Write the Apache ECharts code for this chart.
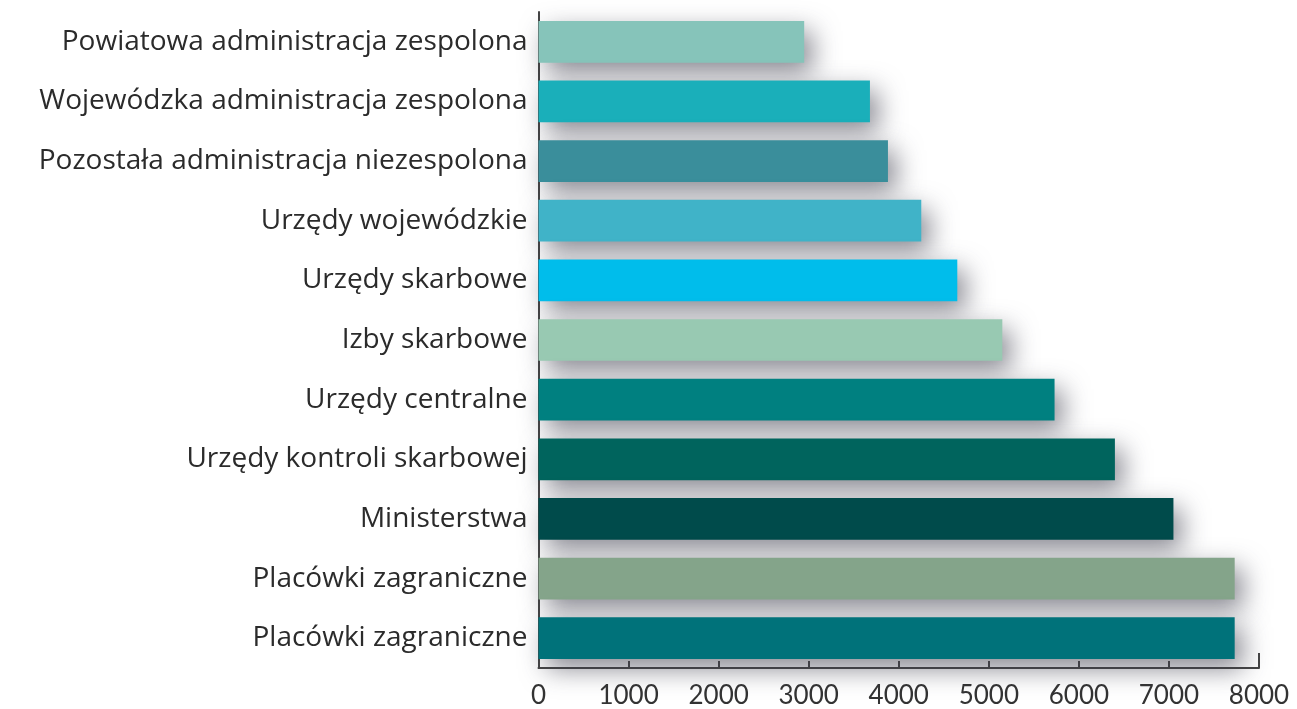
<!DOCTYPE html>
<html>
<head>
<meta charset="utf-8">
<script src="https://cdn.jsdelivr.net/npm/echarts@6/dist/echarts.min.js"></script>
<style>
html,body{margin:0;padding:0;background:#fff;}
#chart{width:1297px;height:709px;}
</style>
</head>
<body>
<div id="chart"></div>
<script>
const categories = [
  'Powiatowa administracja zespolona',
  'Wojewódzka administracja zespolona',
  'Pozostała administracja niezespolona',
  'Urzędy wojewódzkie',
  'Urzędy skarbowe',
  'Izby skarbowe',
  'Urzędy centralne',
  'Urzędy kontroli skarbowej',
  'Ministerstwa',
  'Placówki zagraniczne',
  'Placówki zagraniczne'
];
const values = [2950, 3680, 3880, 4250, 4650, 5150, 5730, 6400, 7050, 7730, 7730];
const barColors = ['#86C4BA', '#1AAFBA', '#3A8E9B', '#40B3C8', '#00BDEB', '#98C9B2', '#008080', '#00645D', '#004B4B', '#84A48A', '#00727A'];
const xTicks = [0, 1000, 2000, 3000, 4000, 5000, 6000, 7000, 8000];

const chart = echarts.init(document.getElementById('chart'));
chart.setOption({
  backgroundColor: '#ffffff',
  animation: false,
  grid: { left: 538.5, right: 38, top: 12, bottom: 40.5, containLabel: false },
  xAxis: [{
    type: 'value',
    min: xTicks[0],
    max: xTicks[xTicks.length - 1],
    interval: 1000,
    splitLine: { show: false },
    axisLine: { show: true, lineStyle: { color: '#444', width: 2 } },
    axisTick: { show: true, inside: true, length: 7, lineStyle: { color: '#444', width: 2 } },
    axisLabel: { color: '#333', fontSize: 26, fontFamily: 'Lato', margin: 15, formatter: v => String(v) }
  }, {
    type: 'value',
    position: 'bottom',
    min: xTicks[0],
    max: xTicks[xTicks.length - 1],
    interval: 1000,
    splitLine: { show: false },
    axisLine: { show: false },
    axisLabel: { show: false },
    axisTick: { show: true, inside: true, length: 15, customValues: [xTicks[xTicks.length - 1]], lineStyle: { color: '#444', width: 2 } }
  }],
  yAxis: {
    type: 'category',
    data: categories,
    inverse: true,
    axisLine: { show: true, lineStyle: { color: '#444', width: 2 } },
    axisTick: { show: false },
    axisLabel: { color: '#2b2b2b', fontSize: 28, fontFamily: 'Open Sans', margin: 11, padding: [6, 0, 0, 0] }
  },
  series: [{
    type: 'bar',
    xAxisIndex: 0,
    barWidth: '70%',
    data: values.map((v, i) => ({ value: v, itemStyle: { color: barColors[i] } })),
    itemStyle: {
      shadowBlur: 26,
      shadowColor: 'rgba(60,60,75,0.6)',
      shadowOffsetX: 8,
      shadowOffsetY: 10
    }
  }]
});
</script>
</body>
</html>
